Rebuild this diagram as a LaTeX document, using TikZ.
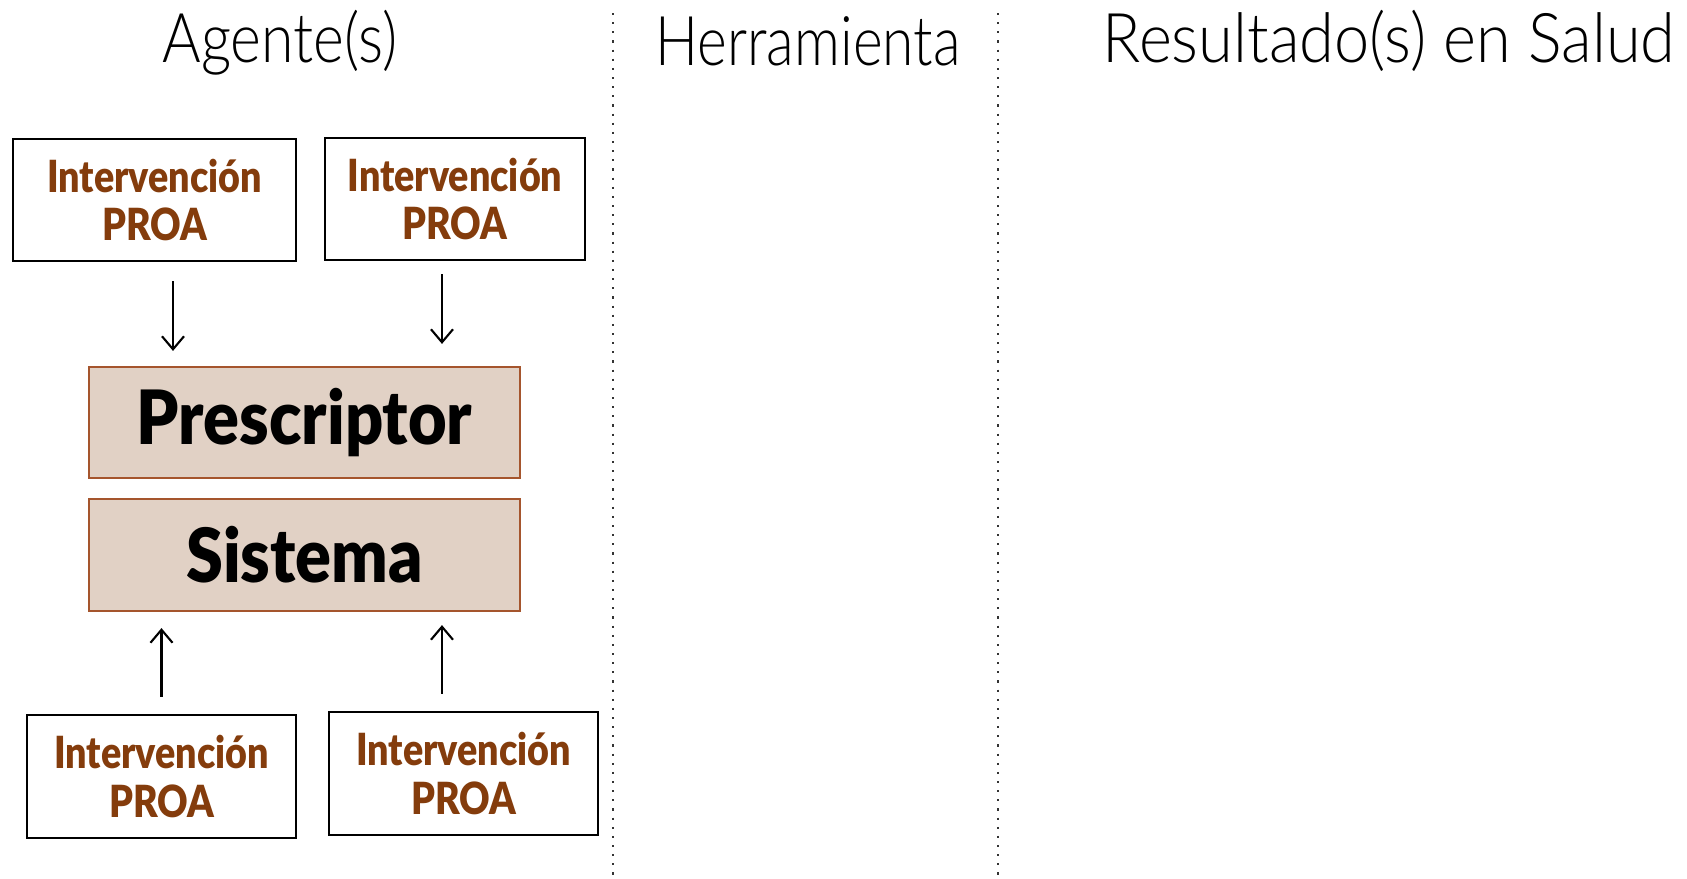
\documentclass[tikz,border=0pt]{standalone}
\usepackage{fontspec}
\setmainfont{Lato}[FakeStretch=0.88]
\newfontfamily\negra{Lato Black}[FakeStretch=0.85]
\newfontfamily\negragrande{Lato Black}[FakeStretch=0.89]
\newfontfamily\fina{Lato Light}[FakeStretch=0.86]
\newfontfamily\finaestrecha{Lato Light}[FakeStretch=0.83]
\newfontfamily\finaancha{Lato Light}[FakeStretch=0.92]
\usepackage{tikz}
\usetikzlibrary{positioning}
\usetikzlibrary{arrows.meta}

\definecolor{cafe}{RGB}{132,60,12}
\definecolor{fondo}{RGB}{225,209,197}
\definecolor{borde}{RGB}{165,85,45}

\tikzset{
 caja/.style={draw=black,line width=0.6pt,fill=white,inner sep=0pt,align=center,
  text=cafe,font=\fontsize{12.6}{13.9}\negra,minimum height=1.22cm},
 nivel/.style={draw=borde,line width=0.6pt,fill=fondo,inner sep=0pt,
  minimum width=4.31cm,minimum height=1.11cm,font=\fontsize{21.3}{24}\negragrande},
 titulo/.style={inner sep=0pt,font=\fontsize{19.5}{22}\fina},
 flecha/.style={-{Straight Barb[length=1.3mm,width=2.2mm]},line width=0.6pt},
 divisor/.style={dotted,line width=0.6pt,black!80}
}

\begin{document}
\begin{tikzpicture}[x=0.01cm,y=-0.01cm]
 \useasboundingbox (0,0) rectangle (1687,878);
 \node[titulo] (agente) at (280,43) {Agente(s)};
 \node[titulo,font=\fontsize{19.5}{22}\finaestrecha] (herram) at (808,41) {Herramienta};
 \node[titulo,font=\fontsize{19.5}{22}\finaancha] (result) at (1389,41) {Resultado(s) en Salud};
 \coordinate (d1a) at (613,13); \coordinate (d1b) at (613,878);
 \coordinate (d2a) at (998,13); \coordinate (d2b) at (998,878);
 \draw[divisor] (d1a) -- (d1b);
 \draw[divisor] (d2a) -- (d2b);
 \node[caja,minimum width=2.83cm] (ia) at (154.5,200) {Intervención\\PROA};
 \node[caja,minimum width=2.60cm] (ib) at (455,199) {Intervención\\PROA};
 \node[nivel] (pres) at (304.5,422.5) {Prescriptor};
 \node[nivel,minimum height=1.12cm] (sist) at (304.5,555) {Sistema};
 \node[caja,minimum width=2.69cm,minimum height=1.23cm] (ic) at (161.5,776.5) {Intervención\\PROA};
 \node[caja,minimum width=2.69cm,minimum height=1.23cm] (id) at (463.5,773.5) {Intervención\\PROA};
 \draw[flecha,shorten <=0.19cm,shorten >=0.15cm] ([xshift=0.185cm]ia.south) -- ([xshift=0.185cm]ia.south |- pres.north);
 \draw[flecha,shorten <=0.13cm,shorten >=0.22cm] ([xshift=-0.13cm]ib.south) -- ([xshift=-0.13cm]ib.south |- pres.north);
 \draw[flecha,shorten <=0.17cm,shorten >=0.16cm] (ic.north) -- (ic.north |- sist.south);
 \draw[flecha,shorten <=0.17cm,shorten >=0.13cm] ([xshift=-0.215cm]id.north) -- ([xshift=-0.215cm]id.north |- sist.south);
\end{tikzpicture}
\end{document}
